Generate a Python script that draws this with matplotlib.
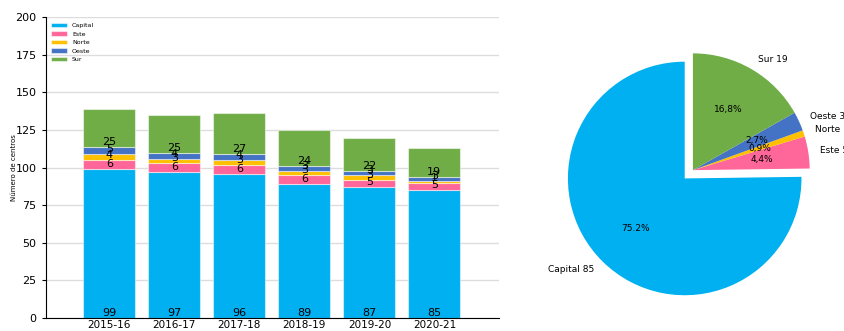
import numpy as np
import matplotlib
matplotlib.use("Agg")
import matplotlib.pyplot as plt

cursos = ["2015-16", "2016-17", "2017-18", "2018-19", "2019-20", "2020-21"]
zonas = ["Capital", "Este", "Norte", "Oeste", "Sur"]
capital = [99, 97, 96, 89, 87, 85]
este = [6, 6, 6, 6, 5, 5]
norte = [4, 3, 3, 3, 3, 1]
oeste = [5, 4, 4, 3, 3, 3]
sur = [25, 25, 27, 24, 22, 19]
colores = ["#00B0F0", "#FF6699", "#FFC000", "#4472C4", "#70AD47"]

# curso 2020-21 para la tarta
pie_vals = [85, 5, 1, 3, 19]
pie_pct = ["75.2%", "4,4%", "0,9%", "2,7%", "16,8%"]

fig = plt.figure(figsize=(8.45, 3.31), dpi=100)
ax = fig.add_axes([0.054, 0.039, 0.537, 0.909])

x = np.arange(len(cursos))
bottom = np.zeros(len(cursos))
for nombre, vals, c in zip(zonas, [capital, este, norte, oeste, sur], colores):
    ax.bar(x, vals, 0.8, bottom=bottom, color=c, label=nombre,
           edgecolor=(1, 1, 1, 0.5), linewidth=0.8, zorder=2)
    for xi, b, v in zip(x, bottom, vals):
        ax.text(xi, b, str(v), ha="center", va="bottom", fontsize=8, zorder=3)
    bottom += np.array(vals)

ax.set_xticks(x)
ax.set_xticklabels(cursos, fontsize=7.5)
ax.tick_params(axis="x", length=0, pad=1.5)
ax.set_xlim(-0.98, 6.0)
ax.set_ylim(0, 200)
ax.set_yticks(range(0, 201, 25))
ax.tick_params(axis="y", labelsize=8, length=3)
ax.set_ylabel("Número de centros", fontsize=5, labelpad=-1)
ax.grid(axis="y", color="#dddddd", linewidth=1, zorder=0)
ax.set_axisbelow(True)
ax.spines["top"].set_visible(False)
ax.spines["right"].set_visible(False)
ax.legend(loc="upper left", fontsize=4.5, frameon=False, handlelength=2.5,
          bbox_to_anchor=(0.0, 1.0))

ax2 = fig.add_axes([0.647, 0.045, 0.346, 0.882])
wedges, texts = ax2.pie(pie_vals, colors=colores, startangle=90,
                        explode=[0.1, 0, 0, 0, 0],
                        labels=[f"{z} {v}" for z, v in zip(zonas, pie_vals)],
                        textprops={"fontsize": 6.5})
for w, p in zip(wedges, pie_pct):
    ang = np.deg2rad((w.theta1 + w.theta2) / 2)
    cx, cy = w.center
    ax2.text(cx + 0.6 * np.cos(ang), cy + 0.6 * np.sin(ang), p,
             ha="center", va="center", fontsize=6.5)

fig.savefig("out.png", dpi=100)
